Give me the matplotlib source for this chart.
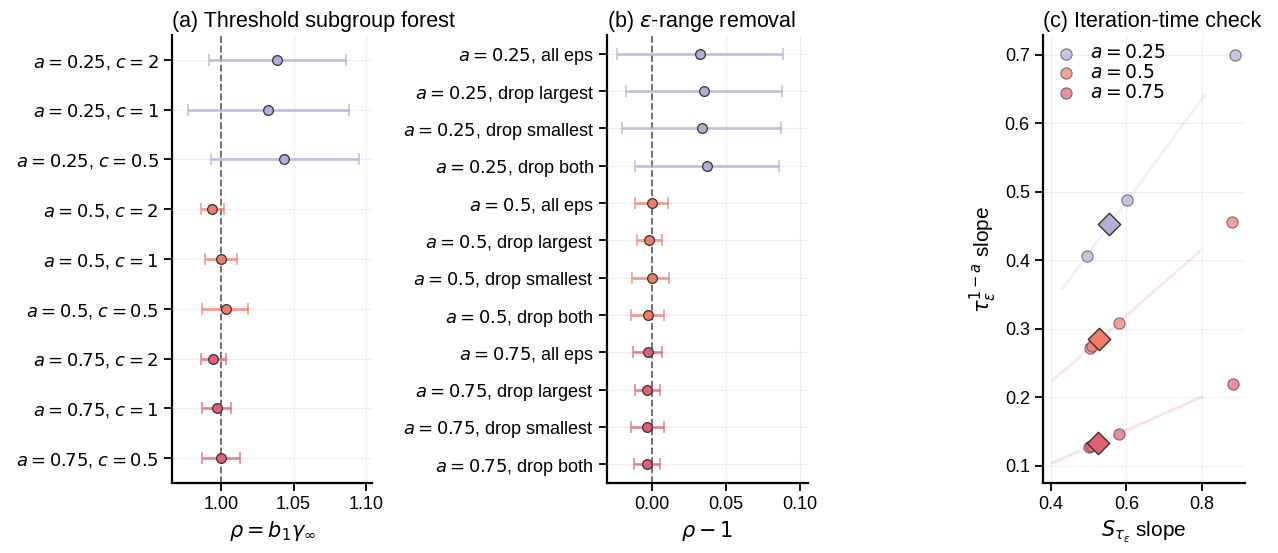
import numpy as np
import matplotlib
matplotlib.use('Agg')
import matplotlib.pyplot as plt

plt.rcParams['font.family'] = ['Liberation Sans', 'DejaVu Sans']
plt.rcParams['mathtext.fontset'] = 'dejavusans'
plt.rcParams['font.size'] = 13

COL = {0.25: '#b3aed8', 0.5: '#f27c6c', 0.75: '#e55f73'}

# (a) threshold subgroup forest
a_labels = ['$a = 0.25$, $c = 2$', '$a = 0.25$, $c = 1$', '$a = 0.25$, $c = 0.5$',
            '$a = 0.5$, $c = 2$', '$a = 0.5$, $c = 1$', '$a = 0.5$, $c = 0.5$',
            '$a = 0.75$, $c = 2$', '$a = 0.75$, $c = 1$', '$a = 0.75$, $c = 0.5$']
a_group = [0.25, 0.25, 0.25, 0.5, 0.5, 0.5, 0.75, 0.75, 0.75]
a_rho = [1.0384, 1.0322, 1.0437, 0.9940, 1.0000, 1.0032, 0.9947, 0.9972, 1.0002]
a_lo = [0.9917, 0.9773, 0.9931, 0.9862, 0.9890, 0.9873, 0.9862, 0.9873, 0.9869]
a_hi = [1.0861, 1.0879, 1.0948, 1.0023, 1.0110, 1.0190, 1.0034, 1.0069, 1.0135]

# (b) eps-range removal
b_labels = ['$a = 0.25$, all eps', '$a = 0.25$, drop largest', '$a = 0.25$, drop smallest',
            '$a = 0.25$, drop both', '$a = 0.5$, all eps', '$a = 0.5$, drop largest',
            '$a = 0.5$, drop smallest', '$a = 0.5$, drop both', '$a = 0.75$, all eps',
            '$a = 0.75$, drop largest', '$a = 0.75$, drop smallest', '$a = 0.75$, drop both']
b_group = [0.25] * 4 + [0.5] * 4 + [0.75] * 4
b_val = [0.0325, 0.0354, 0.0339, 0.0375, 0.0000, -0.0020, 0.0000, -0.0027,
         -0.0027, -0.0029, -0.0029, -0.0029]
b_lo = [-0.0233, -0.0170, -0.0197, -0.0112, -0.0114, -0.0100, -0.0130, -0.0139,
        -0.0125, -0.0112, -0.0141, -0.0121]
b_hi = [0.0884, 0.0877, 0.0872, 0.0861, 0.0110, 0.0070, 0.0120, 0.0083,
        0.0072, 0.0054, 0.0081, 0.0060]

# (c) iteration-time check
c_x = {0.25: [0.887, 0.602, 0.496], 0.5: [0.879, 0.581, 0.503, 0.510],
       0.75: [0.881, 0.579, 0.501, 0.506]}
c_y = {0.25: [0.700, 0.488, 0.406], 0.5: [0.456, 0.309, 0.272, 0.275],
       0.75: [0.220, 0.146, 0.127, 0.129]}
c_mean = {0.25: (0.554, 0.4535), 0.5: (0.528, 0.285), 0.75: (0.525, 0.133)}
c_line = {0.25: ([0.430, 0.808], [0.358, 0.642]), 0.5: ([0.406, 0.795], [0.225, 0.414]),
          0.75: ([0.403, 0.797], [0.104, 0.200])}

fig = plt.figure(figsize=(12.78, 5.53), dpi=100)
ax1 = fig.add_axes([0.1346, 0.1266, 0.1565, 0.810])
ax2 = fig.add_axes([0.4750, 0.1266, 0.1573, 0.810])
ax3 = fig.add_axes([0.8161, 0.1266, 0.1581, 0.810])


def style(ax):
    for s in ['top', 'right']:
        ax.spines[s].set_visible(False)
    for s in ['left', 'bottom']:
        ax.spines[s].set_linewidth(1.6)
    ax.tick_params(width=1.3, length=6, labelsize=13)
    ax.grid(True, color='#eeeeee', lw=0.8)
    ax.set_axisbelow(True)


def forest(ax, labels, groups, vals, lo, hi, ref):
    y = np.arange(len(labels))
    for i in y:
        c = COL[groups[i]]
        ax.errorbar(vals[i], i, xerr=[[vals[i] - lo[i]], [hi[i] - vals[i]]], fmt='none',
                    ecolor=c, elinewidth=2, capsize=4, capthick=1.2, alpha=0.75, zorder=2)
        ax.plot(vals[i], i, 'o', ms=7, mfc=c, mec='#333333', mew=0.9, zorder=3)
    ax.axvline(ref, color='#666666', ls='--', lw=1.3, zorder=1)
    ax.set_yticks(y)
    ax.set_yticklabels(labels)
    ax.set_ylim(len(labels) - 0.5, -0.5)


forest(ax1, a_labels, a_group, a_rho, a_lo, a_hi, 1.0)
ax1.set_xlim(0.9664, 1.104)
ax1.set_xticks([1.00, 1.05, 1.10])
ax1.set_xticklabels(['1.00', '1.05', '1.10'])
ax1.set_xlabel(r'$\rho = b_1\gamma_\infty$', fontsize=15)
ax1.set_title('(a) Threshold subgroup forest', fontsize=15.5, loc='left')
style(ax1)

forest(ax2, b_labels, b_group, b_val, b_lo, b_hi, 0.0)
ax2.set_xlim(-0.030, 0.1055)
ax2.set_xticks([0.00, 0.05, 0.10])
ax2.set_xticklabels(['0.00', '0.05', '0.10'])
ax2.set_xlabel(r'$\rho - 1$', fontsize=15)
ax2.set_title(r'(b) $\varepsilon$-range removal', fontsize=15.5, loc='left')
style(ax2)

for g in [0.25, 0.5, 0.75]:
    c = COL[g]
    ax3.plot(c_line[g][0], c_line[g][1], color=c, lw=2, alpha=0.18, zorder=1)
    ax3.scatter(c_x[g], c_y[g], s=65, color=c, alpha=0.7, edgecolor='#444444',
                linewidth=0.8, zorder=3, label='$a = %s$' % g)
    ax3.scatter([c_mean[g][0]], [c_mean[g][1]], s=130, marker='D', color=c,
                edgecolor='#333333', linewidth=1.0, zorder=4)
ax3.set_xlim(0.379, 0.914)
ax3.set_ylim(0.075, 0.729)
ax3.set_xticks([0.4, 0.6, 0.8])
ax3.set_yticks([0.1, 0.2, 0.3, 0.4, 0.5, 0.6, 0.7])
ax3.set_xlabel(r'$S_{\tau_\varepsilon}$ slope', fontsize=15)
ax3.set_ylabel(r'$\tau_\varepsilon^{1-a}$ slope', fontsize=15)
ax3.set_title('(c) Iteration-time check', fontsize=15.5, loc='left')
ax3.legend(loc='upper left', frameon=False, fontsize=13.5, handletextpad=0.5,
           borderaxespad=0.1, labelspacing=0.1, handlelength=1.5)
style(ax3)

fig.savefig('out.png', dpi=100)
